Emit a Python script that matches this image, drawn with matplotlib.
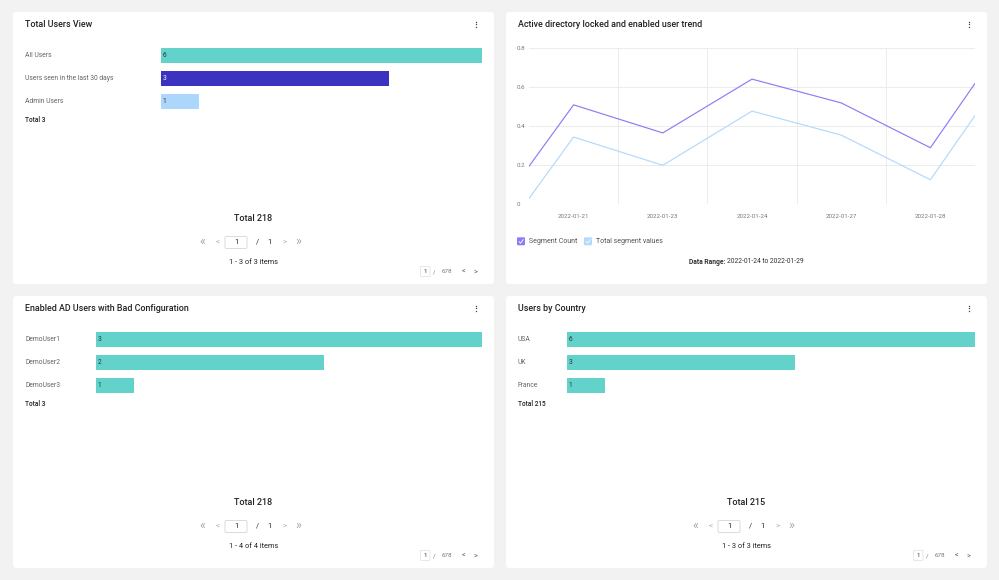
import matplotlib
matplotlib.use('Agg')
import matplotlib.pyplot as plt
from matplotlib.patches import FancyBboxPatch
from matplotlib.transforms import blended_transform_factory

plt.rcParams['font.family'] = ['Roboto', 'DejaVu Sans']

# ---------------- data ----------------
tl_title = "Total Users View"
tl_categories = ["All Users", "Users seen in the last 30 days", "Admin Users"]
tl_counts = [6, 3, 1]
tl_bar_lengths = [6, 4.26, 0.71]
tl_total = "Total 3"
tl_footer_total = "Total 218"
tl_items = "1 - 3 of 3 items"

bl_title = "Enabled AD Users with Bad Configuration"
bl_categories = ["DemoUser1", "DemoUser2", "DemoUser3"]
bl_counts = [3, 2, 1]
bl_bar_lengths = [3, 1.77, 0.295]
bl_total = "Total 3"
bl_footer_total = "Total 218"
bl_items = "1 - 4 of 4 items"

br_title = "Users by Country"
br_categories = ["USA", "UK", "France"]
br_counts = [6, 3, 1]
br_bar_lengths = [6, 3.35, 0.56]
br_total = "Total 215"
br_footer_total = "Total 215"
br_items = "1 - 3 of 3 items"

tr_title = "Active directory locked and enabled user trend"
trend_dates = ["2022-01-21", "2022-01-23", "2022-01-24", "2022-01-27", "2022-01-28"]
trend_x = [-0.5, 0, 1, 2, 3, 4, 4.5]
segment_count = [0.195, 0.51, 0.366, 0.642, 0.52, 0.29, 0.62]
total_segment_values = [0.03, 0.345, 0.20, 0.478, 0.355, 0.126, 0.455]
y_ticks = [0, 0.2, 0.4, 0.6, 0.8]
y_tick_labels = ["0", "0.2", "0.4", "0.6", "0.8"]
series_names = ["Segment Count", "Total segment values"]
data_range_label = "Data Range:"
data_range_value = "2022-01-24 to 2022-01-29"

TEAL = '#62d2cb'
INDIGO = '#3b32c0'
LIGHTBLUE = '#add6fd'
LINE_PURPLE = '#8b7df5'
LINE_BLUE = '#b3d9fb'

# ---------------- figure ----------------
W, H = 999, 580
fig = plt.figure(figsize=(W / 100, H / 100), dpi=100)
fig.patch.set_facecolor('#f2f2f2')
bg = fig.add_axes([0, 0, 1, 1], zorder=0)
bg.set_xlim(0, W)
bg.set_ylim(H, 0)
bg.axis('off')


def px_axes(x0, y0, x1, y1):
    ax = fig.add_axes([x0 / W, 1 - y1 / H, (x1 - x0) / W, (y1 - y0) / H], zorder=2)
    ax.patch.set_alpha(0)
    return ax


PANEL_W, PANEL_H = 481, 272


def panel(px, py, title):
    bg.add_patch(FancyBboxPatch((px, py), PANEL_W, PANEL_H,
                                boxstyle='round,pad=0,rounding_size=3',
                                fc='white', ec='none', zorder=1))
    bg.text(px + 12, py + 12.5, title, fontsize=6.4, fontweight='medium',
            color='#222222', va='center', ha='left', zorder=3)
    kx = px + 463
    for dy in (-2.3, 0, 2.3):
        bg.plot([kx], [py + 12.3 + dy], marker='o', ms=1.0, color='#444444',
                mec='none', zorder=3)


def footer(px, py, total_text, items_text):
    cx = px + 240.5
    bg.text(cx, py + 206.5, total_text, fontsize=6.5, fontweight='medium',
            color='#222222', ha='center', va='center', zorder=3)
    yp = py + 230.5
    bg.text(cx - 51.5, yp - 0.5, "«", fontsize=9, color='#aaaaaa', ha='center', va='center',
            zorder=3)
    bg.text(cx - 36, yp, "<", fontsize=6, color='#b0b0b0', ha='center', va='center',
            zorder=3)
    bg.add_patch(FancyBboxPatch((cx - 28.5, yp - 6), 22, 12,
                                boxstyle='round,pad=0,rounding_size=1.5',
                                fc='white', ec='#d6d6d6', lw=0.6, zorder=3))
    bg.text(cx - 17.5, yp, "1", fontsize=5.4, color='#222222', ha='center', va='center', zorder=4)
    bg.text(cx + 3.5, yp, "/", fontsize=5.4, color='#222222', ha='center', va='center', zorder=3)
    bg.text(cx + 16, yp, "1", fontsize=5.4, color='#222222', ha='center', va='center', zorder=3)
    bg.text(cx + 31, yp, ">", fontsize=6, color='#b0b0b0', ha='center', va='center',
            zorder=3)
    bg.text(cx + 45, yp - 0.5, "»", fontsize=9, color='#aaaaaa', ha='center', va='center',
            zorder=3)
    bg.text(cx, py + 250, items_text, fontsize=5.3, color='#222222',
            ha='center', va='center', zorder=3)
    # small pager bottom right
    rx = px + PANEL_W
    ys = py + 259.5
    bg.add_patch(FancyBboxPatch((rx - 73.5, ys - 5), 9.5, 10,
                                boxstyle='round,pad=0,rounding_size=1',
                                fc='white', ec='#dddddd', lw=0.5, zorder=3))
    bg.text(rx - 68.7, ys, "1", fontsize=4.5, color='#333333', ha='center', va='center', zorder=4)
    bg.text(rx - 59.5, ys, "/", fontsize=4.5, color='#777777', ha='center', va='center', zorder=3)
    bg.text(rx - 47, ys, "678", fontsize=4.5, color='#777777', ha='center', va='center', zorder=3)
    bg.text(rx - 30.5, ys + 0.6, "<", fontsize=5.2, color='#555555', ha='center', va='center', zorder=3)
    bg.text(rx - 18.5, ys + 0.6, ">", fontsize=5.2, color='#555555', ha='center', va='center', zorder=3)


def bar_panel(px, py, title, cats, counts, lengths, colors, total_text,
              bar_x0, bar_x1, footer_total, items_text):
    panel(px, py, title)
    n = len(cats)
    ax = px_axes(bar_x0, py + 31.75, bar_x1, py + 31.75 + 23 * n)
    ax.barh(range(n), lengths, height=0.65, color=colors,
            edgecolor='none', zorder=2)
    ax.set_xlim(0, max(lengths))
    ax.set_ylim(n - 0.5, -0.5)
    ax.axis('off')
    tr = blended_transform_factory(bg.transData, ax.transData)
    for i, (c, v) in enumerate(zip(cats, counts)):
        ax.text(px + 12, i, c, transform=tr, fontsize=4.85, color='#666666',
                ha='left', va='center')
        tc = 'white' if colors[i] == INDIGO else '#333333'
        ax.annotate(str(v), (0, i), xytext=(1.4, 0), textcoords='offset points',
                    fontsize=4.8, color=tc, ha='left', va='center', zorder=3)
    bg.text(px + 12, py + 108.5, total_text, fontsize=4.7, fontweight='medium',
            color='#222222', ha='left', va='center', zorder=3)
    footer(px, py, footer_total, items_text)


bar_panel(13, 12, tl_title, tl_categories, tl_counts, tl_bar_lengths,
          [TEAL, INDIGO, LIGHTBLUE], tl_total, 161, 482, tl_footer_total, tl_items)
bar_panel(13, 296, bl_title, bl_categories, bl_counts, bl_bar_lengths,
          [TEAL] * 3, bl_total, 96, 482, bl_footer_total, bl_items)
bar_panel(506, 296, br_title, br_categories, br_counts, br_bar_lengths,
          [TEAL] * 3, br_total, 567, 975, br_footer_total, br_items)

# ---------------- line panel ----------------
panel(506, 12, tr_title)
ax = px_axes(529, 48.3, 975, 204.3)
ax.plot(trend_x, segment_count, color=LINE_PURPLE, lw=0.85, zorder=3)
ax.plot(trend_x, total_segment_values, color=LINE_BLUE, lw=0.85, zorder=3)
ax.set_xlim(-0.5, 4.5)
ax.set_ylim(0, 0.8)
ax.set_yticks(y_ticks)
ax.set_yticklabels(y_tick_labels)
ax.set_xticks(range(len(trend_dates)))
ax.set_xticklabels(trend_dates)
ax.set_xticks([0.5, 1.5, 2.5, 3.5], minor=True)
ax.grid(axis='y', which='major', color='#ececec', lw=0.7)
ax.grid(axis='x', which='minor', color='#ececec', lw=0.7)
ax.set_axisbelow(True)
for s in ax.spines.values():
    s.set_visible(False)
ax.tick_params(axis='both', which='both', length=0, labelsize=4.4, labelcolor='#777777')
ax.tick_params(axis='y', pad=8.6)
ax.tick_params(axis='x', pad=6.8)
for lbl in ax.get_yticklabels():
    lbl.set_horizontalalignment('left')

# legend with checkboxes
legend_items = [(517, 529, LINE_PURPLE, series_names[0]),
                (584, 596, LINE_BLUE, series_names[1])]
for bx, tx, col, name in legend_items:
    bg.add_patch(FancyBboxPatch((bx, 237.3), 8, 8,
                                boxstyle='round,pad=0,rounding_size=1',
                                fc=col, ec='none', zorder=3))
    bg.plot([bx + 2, bx + 3.5, bx + 6.2], [241.5, 243.2, 239.6], color='white',
            lw=0.6, zorder=4, solid_capstyle='round')
    bg.text(tx, 241.3, name, fontsize=5.0, color='#555555', ha='left',
            va='center', zorder=3)

t1 = bg.text(689, 261.7, data_range_label, fontsize=4.9, fontweight='bold',
             color='#333333', ha='left', va='center', zorder=3)
fig.canvas.draw()
bb = t1.get_window_extent(renderer=fig.canvas.get_renderer())
x_end = bg.transData.inverted().transform((bb.x1, bb.y0))[0]
bg.text(x_end + 2, 261.7, data_range_value, fontsize=4.9, color='#333333',
        ha='left', va='center', zorder=3)

fig.savefig('out.png', dpi=100, facecolor=fig.get_facecolor())
